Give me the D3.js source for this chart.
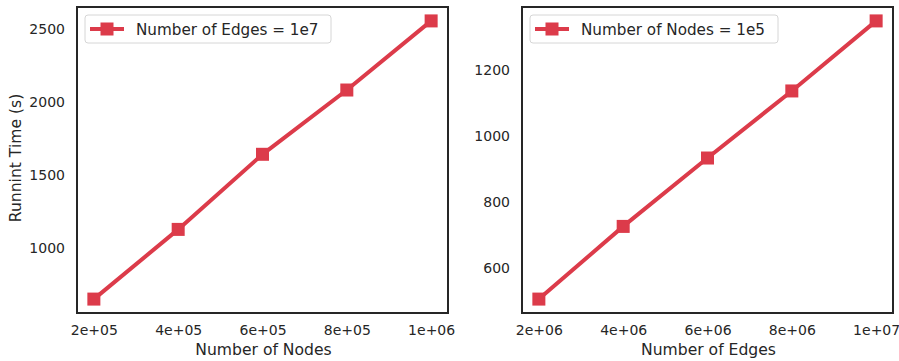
<!DOCTYPE html>
<html>
<head>
<meta charset="utf-8">
<script src="https://cdn.jsdelivr.net/npm/d3@7"></script>
<style>
  body { margin: 0; background: #fff; }
  svg text { font-family: "DejaVu Sans", sans-serif; fill: #262626; }
</style>
</head>
<body>
<div id="chart"></div>
<script>
// left panel: edges fixed at 1e7
const nodeCounts = [200000, 400000, 600000, 800000, 1000000];
const timeByNodes = [651, 1128, 1642, 2082, 2555];
const nodeTicks = [200000, 400000, 600000, 800000, 1000000];
const nodeTickLabels = ["2e+05", "4e+05", "6e+05", "8e+05", "1e+06"];
const timeTicksLeft = [1000, 1500, 2000, 2500];

// right panel: nodes fixed at 1e5
const edgeCounts = [2000000, 4000000, 6000000, 8000000, 10000000];
const timeByEdges = [506, 726, 933, 1136, 1348];
const edgeTicks = [2000000, 4000000, 6000000, 8000000, 10000000];
const edgeTickLabels = ["2e+06", "4e+06", "6e+06", "8e+06", "1e+07"];
const timeTicksRight = [600, 800, 1000, 1200];

const color = "#dc3b4a";
const W = 899, H = 361;

const svg = d3.select("#chart").append("svg")
    .attr("width", W)
    .attr("height", H);

function pad(ext) {
    let m = (ext[1] - ext[0]) * 0.05;
    return [ext[0] - m, ext[1] + m];
}

function drawPanel(opt) {
    let x = d3.scaleLinear().domain(pad(d3.extent(opt.xs))).range([opt.left, opt.right]);
    let y = d3.scaleLinear().domain(pad(d3.extent(opt.ys))).range([opt.bottom, opt.top]);

    let g = svg.append("g");

    // tick labels only, no tick marks
    let xAxis = d3.axisBottom(x).tickValues(opt.xTicks)
        .tickFormat((d, i) => opt.xLabels[i]).tickSize(0).tickPadding(12.5);
    g.append("g").attr("transform", `translate(0,${opt.bottom})`).call(xAxis)
        .call(a => a.select(".domain").remove())
        .selectAll("text").style("font-size", "14px");

    let yAxis = d3.axisLeft(y).tickValues(opt.yTicks)
        .tickFormat(d3.format("d")).tickSize(0).tickPadding(12);
    g.append("g").attr("transform", `translate(${opt.left},0)`).call(yAxis)
        .call(a => a.select(".domain").remove())
        .selectAll("text").style("font-size", "14px");

    // frame
    g.append("rect")
        .attr("x", opt.left).attr("y", opt.top)
        .attr("width", opt.right - opt.left).attr("height", opt.bottom - opt.top)
        .attr("fill", "none").attr("stroke", "#262626").attr("stroke-width", 2);

    let pts = opt.xs.map((d, i) => [d, opt.ys[i]]);
    let line = d3.line().x(d => x(d[0])).y(d => y(d[1]));

    g.append("path").datum(pts)
        .attr("d", line)
        .attr("fill", "none")
        .attr("stroke", color)
        .attr("stroke-width", 4);

    g.selectAll(".pt").data(pts).enter().append("rect")
        .attr("class", "pt")
        .attr("x", d => x(d[0]) - 6.5)
        .attr("y", d => y(d[1]) - 6.5)
        .attr("width", 13).attr("height", 13)
        .attr("fill", color);

    // axis titles
    g.append("text")
        .attr("x", (opt.left + opt.right) / 2 + 1)
        .attr("y", 355)
        .attr("text-anchor", "middle")
        .style("font-size", "15.6px")
        .text(opt.xTitle);

    if (opt.yTitle) {
        g.append("text")
            .attr("transform", "rotate(-90)")
            .attr("x", -158)
            .attr("y", 21)
            .attr("text-anchor", "middle")
            .style("font-size", "15.6px")
            .text(opt.yTitle);
    }

    // legend
    let lg = g.append("g").attr("transform", `translate(${opt.left + 8},15)`);
    lg.append("rect")
        .attr("x", 0).attr("y", 0)
        .attr("width", opt.legendW).attr("height", 28)
        .attr("rx", 3)
        .attr("fill", "#fff").attr("stroke", "#d6d6d6").attr("stroke-width", 1);
    lg.append("line")
        .attr("x1", 5).attr("x2", 39).attr("y1", 14).attr("y2", 14)
        .attr("stroke", color).attr("stroke-width", 4);
    lg.append("rect")
        .attr("x", 15.5).attr("y", 7.5).attr("width", 13).attr("height", 13)
        .attr("fill", color);
    lg.append("text")
        .attr("x", 51).attr("y", 19.5)
        .style("font-size", "15.2px")
        .text(opt.legend);
}

drawPanel({
    xs: nodeCounts, ys: timeByNodes,
    xTicks: nodeTicks, xLabels: nodeTickLabels, yTicks: timeTicksLeft,
    left: 77, right: 448, top: 7, bottom: 313,
    xTitle: "Number of Nodes", yTitle: "Runnint Time (s)",
    legend: "Number of Edges = 1e7", legendW: 246
});

drawPanel({
    xs: edgeCounts, ys: timeByEdges,
    xTicks: edgeTicks, xLabels: edgeTickLabels, yTicks: timeTicksRight,
    left: 522, right: 893, top: 7, bottom: 313,
    xTitle: "Number of Edges", yTitle: null,
    legend: "Number of Nodes = 1e5", legendW: 248
});
</script>
</body>
</html>
